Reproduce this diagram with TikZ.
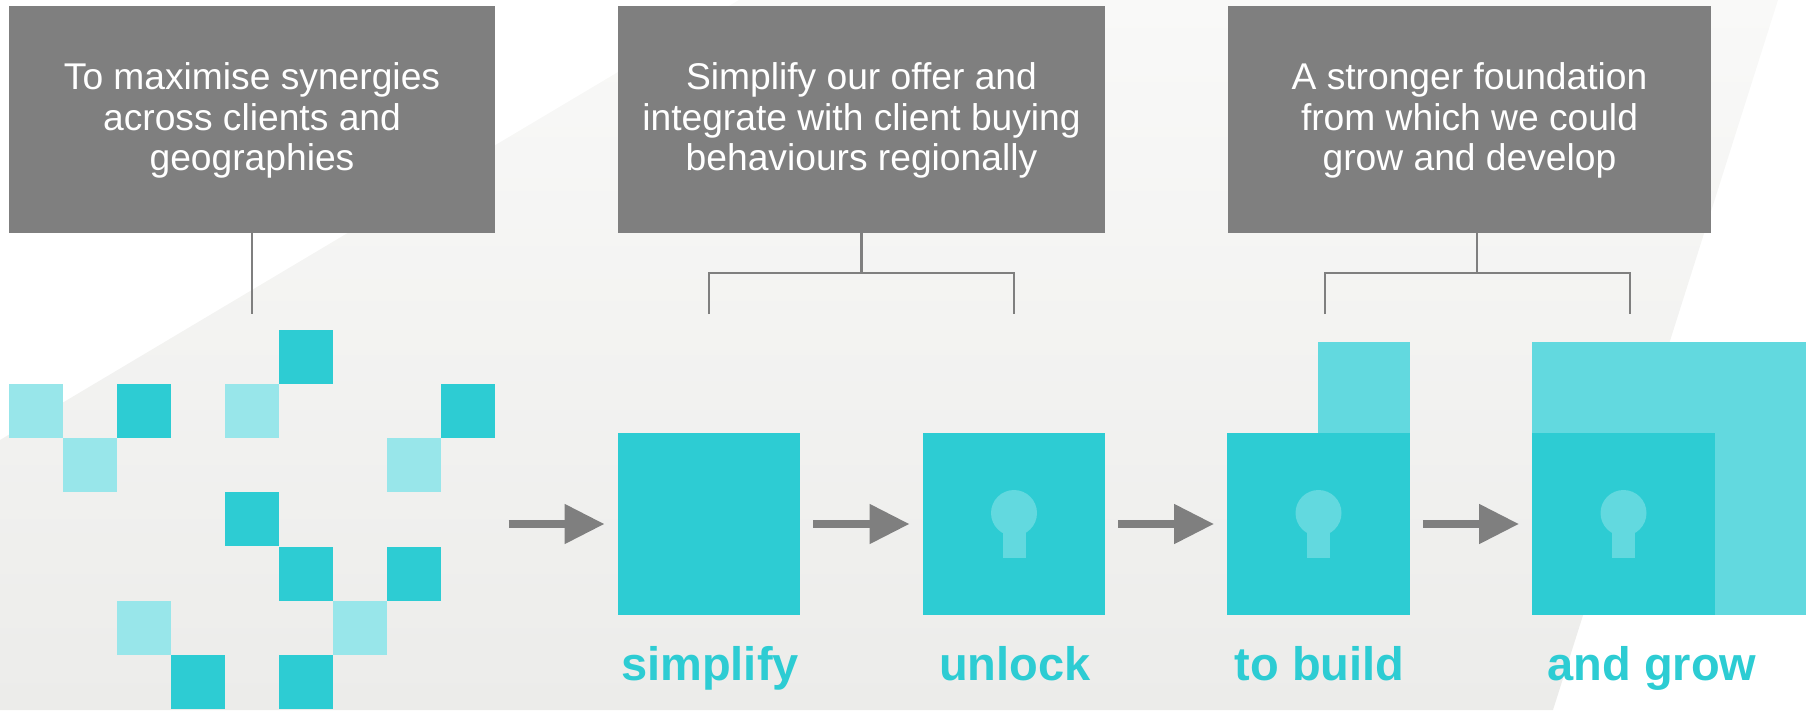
\documentclass[tikz,border=0pt]{standalone}
\usepackage{fontspec}
\setmainfont{Liberation Sans}
\usetikzlibrary{arrows.meta,calc}
\definecolor{teal1}{HTML}{2DCCD3}
\definecolor{teal2}{HTML}{62D9DF}
\definecolor{teal3}{HTML}{98E6EA}
\definecolor{gray1}{HTML}{7F7F7F}
\definecolor{bgtop}{HTML}{F9F9F8}
\definecolor{bgbottom}{HTML}{ECECEA}
\newcommand{\lift}{\rule{0pt}{29pt}}
\tikzset{
  x=1pt,y=-1pt,
  textbox/.style={fill=gray1,text=white,inner sep=0pt,align=center,minimum width=486pt,minimum height=227pt,font=\fontsize{37.2}{40.6}\selectfont},
  link/.style={draw=gray1,line width=2.5pt},
  flow/.style={draw=gray1,line width=8pt,-{Triangle[length=40pt,width=38pt]}},
  bigsq/.style={fill=teal1,inner sep=0pt,minimum width=182.5pt,minimum height=182pt},
  pale/.style={fill=teal2,inner sep=0pt,anchor=north west},
  darksq/.style={fill=teal1,inner sep=0pt,minimum size=54pt,anchor=north west},
  lightsq/.style={fill=teal3,inner sep=0pt,minimum size=54pt,anchor=north west},
  steplabel/.style={text=teal1,anchor=base,inner sep=0pt,font=\fontsize{47}{50}\selectfont\bfseries},
  keyhole/.pic={
    \fill[teal2] (0,-11) circle (23);
    \fill[teal2] (-11.5,-11) rectangle (11.5,34);
  }
}
\begin{document}
\begin{tikzpicture}
\useasboundingbox (0,0) rectangle (1810,710);
% background
\shade[top color=bgtop,bottom color=bgbottom]
  (739,0) -- (1778,0) -- (1553,710) -- (0,710) -- (0,440) -- cycle;
% scattered squares
\foreach \n/\px/\py in {a/9/384,b/63/438,c/225/384,d/387/438,e/117/601,f/333/601}
  \node[lightsq] (light\n) at (\px,\py) {};
\foreach \n/\px/\py in {a/279/330,b/117/384,c/441/384,d/225/492,e/279/547,f/387/547,g/171/655,h/279/655}
  \node[darksq] (dark\n) at (\px,\py) {};
% pale growth shapes
\node[pale,minimum width=92pt,minimum height=91pt] (buildpale) at (1318,342) {};
\node[pale,minimum width=274pt,minimum height=273pt] (growpale) at (1532,342) {};
% big squares
\node[bigsq] (simplify) at (709,524) {};
\node[bigsq] (unlock) at (1014,524) {};
\node[bigsq] (build) at (1318.5,524) {};
\node[bigsq] (grow) at (1623.5,524) {};
\pic at (unlock.center) {keyhole};
\pic at (build.center) {keyhole};
\pic at (grow.center) {keyhole};
% text boxes
\node[textbox] (b1) at (252,119.5) {\lift To maximise synergies\\across clients and\\geographies};
\node[textbox,minimum width=487pt] (b2) at (861.5,119.5) {\lift Simplify our offer and\\integrate with client buying\\behaviours regionally};
\node[textbox,minimum width=483pt] (b3) at (1469.5,119.5) {\lift A stronger foundation\\from which we could\\grow and develop};
% connectors
\coordinate (e1) at (252,314);
\coordinate (j2) at (861.5,273);
\coordinate (l2) at (709,314);
\coordinate (r2) at (1014,314);
\coordinate (j3) at (1477,273);
\coordinate (l3) at (1325,314);
\coordinate (r3) at (1630,314);
\draw[link] (b1.south) -- (e1);
\draw[link] (b2.south) -- (j2);
\draw[link] (l2) -- (l2 |- j2) -- (r2 |- j2) -- (r2);
\draw[link] (j3 |- b3.south) -- (j3);
\draw[link] (l3) -- (l3 |- j3) -- (r3 |- j3) -- (r3);
% flow arrows
\coordinate (start) at (508.5,524);
\draw[flow] (start) -- ([xshift=-13pt]simplify.west);
\draw[flow] ([xshift=13pt]simplify.east) -- ([xshift=-13pt]unlock.west);
\draw[flow] ([xshift=13pt]unlock.east) -- ([xshift=-13pt]build.west);
\draw[flow] ([xshift=13pt]build.east) -- ([xshift=-13pt]grow.west);
% labels
\node[steplabel] (lsimplify) at (710,680) {simplify};
\node[steplabel] (lunlock) at (1015,680) {unlock};
\node[steplabel] (lbuild) at (1319.5,680) {to build};
\node[steplabel] (lgrow) at (1652,680) {and grow};
\end{tikzpicture}
\end{document}
